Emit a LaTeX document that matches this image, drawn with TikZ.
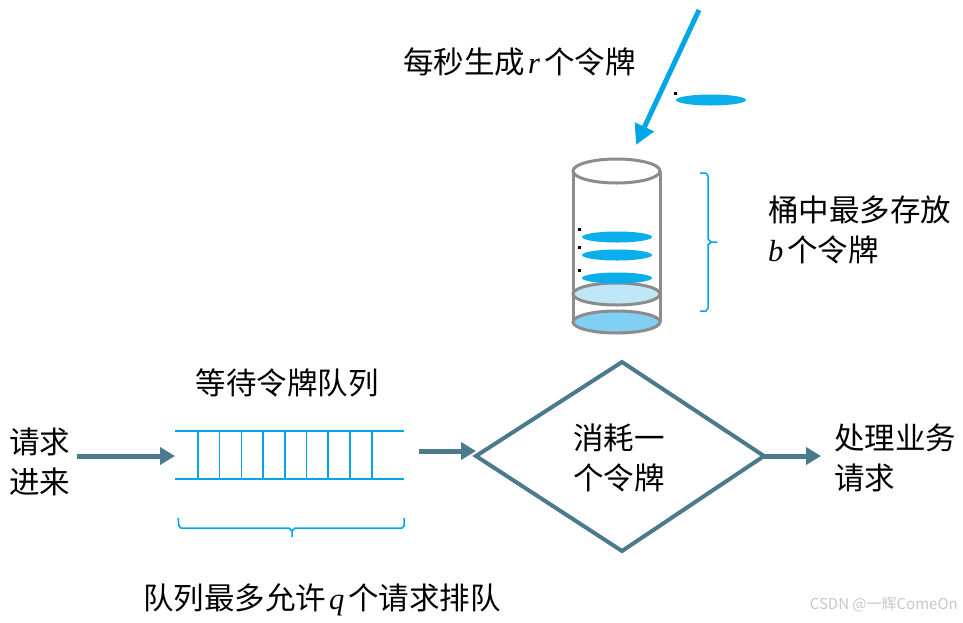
\documentclass[tikz,border=0pt]{standalone}
\usepackage{fontspec}
\newfontfamily\cjk{Noto Sans CJK SC}
\newfontfamily\ltser{Liberation Serif}
\newcommand{\vit}[1]{\kern3pt{\ltser\itshape #1}\kern4pt}
\usetikzlibrary{arrows.meta,shapes.geometric}
\definecolor{tealc}{HTML}{4A7A8C}
\definecolor{cyanc}{HTML}{00A6E6}
\definecolor{cylg}{HTML}{8C8C8C}
\definecolor{lblue}{HTML}{BFE7F8}
\definecolor{mblue}{HTML}{7FD0F2}
\definecolor{tokc}{HTML}{0AAEEA}
\tikzset{
  lbl/.style={font=\cjk\fontsize{30.5}{40}\selectfont, inner sep=0pt, align=left},
  flow/.style={draw=tealc, line width=5pt, -{Triangle[length=15pt,width=17pt]}},
  token/.style={fill=tokc, draw=none},
  tick/.style={fill=black, draw=none},
  brace/.style={draw=cyanc, line width=1.5pt},
  qline/.style={draw=cyanc, line width=1.6pt},
  cyl/.style={draw=cylg, line width=3pt}
}
\begin{document}
\begin{tikzpicture}[x=1pt,y=-1pt]
\useasboundingbox (0,0) rectangle (963,622);
% top text and arrow
\node[lbl, anchor=west] (gen) at (403,62) {每秒生成\vit{r}个令牌};
\coordinate (as) at (699,10);
\coordinate (ae) at (636,145);
\draw[draw=cyanc, line width=5pt, -{Triangle[length=20pt,width=20pt]}] (as) -- (ae);
% flying token
\fill[token] (711,100) ellipse [x radius=35, y radius=5.5];
\fill[tick] (674,92) rectangle (676.5,94.5);
% cylinder
\draw[cyl, fill=mblue] (616.5,322) ellipse [x radius=43.5, y radius=11];
\draw[cyl] (573,172) -- (573,322);
\draw[cyl] (660,172) -- (660,322);
\draw[cyl, fill=lblue] (616.5,294) ellipse [x radius=43.5, y radius=11];
\draw[cyl, fill=white] (616.5,171) ellipse [x radius=43.5, y radius=12];
\foreach \yy in {237,255,278}{
  \fill[token] (617,\yy) ellipse [x radius=35, y radius=5.5];
  \fill[tick] (578,\yy-9) rectangle (580.5,\yy-6.5);
}
% right brace
\draw[brace] (700,173) -- (706,173) -- (708,176) -- (708,239) -- (711,242) -- (717,242)
  (711,242) -- (708,245) -- (708,308) -- (706,311) -- (700,311);
\node[lbl, anchor=north west] (cap) at (768,196) {桶中最多存放\\\hspace*{-3pt}\vit{b}个令牌};
% queue
\node[lbl, anchor=center] (qt) at (287,383) {等待令牌队列};
\coordinate (qw) at (175,455);
\draw[qline] (175,431) -- (404,431);
\draw[qline] (175,479) -- (404,479);
\foreach \xx in {198,219.5,241.5,263,285,306.5,328,350,372}{
  \draw[qline] (\xx,431) -- (\xx,479);
}
\draw[brace] (178,518) -- (179,526) -- (181,528) -- (289,528) -- (292,531) -- (292,537)
  (292,531) -- (295,528) -- (402,528) -- (404,526) -- (404,518);
\node[lbl, anchor=center] (qcap) at (322,600) {队列最多允许\vit{q}个请求排队};
% request in
\node[lbl, anchor=west] (req) at (9,462) {请求\\进来};
\coordinate (rs) at (77,456);
\draw[flow] (rs) -- (qw |- rs);
% diamond
\coordinate (dl) at (476,456);
\coordinate (dt) at (622,362);
\coordinate (dr) at (764,456);
\coordinate (db) at (622,551);
\draw[draw=tealc, line width=4pt, line join=miter] (dl) -- (dt) -- (dr) -- (db) -- cycle;
\node[lbl, anchor=center] (dtext) at (619,458) {消耗一\\个令牌};
\coordinate (qe) at (419,451);
\draw[flow] (qe) -- (dl |- qe);
\coordinate (ot) at (821,456);
\draw[flow] (dr) -- (ot);
\node[lbl, anchor=west] (out) at (834,458) {处理业务\\请求};
% watermark
\node[font=\cjk\fontsize{15}{18}\selectfont, text=black!22, anchor=east, inner sep=0pt] (wm) at (958,605) {CSDN @一辉ComeOn};
\end{tikzpicture}
\end{document}
